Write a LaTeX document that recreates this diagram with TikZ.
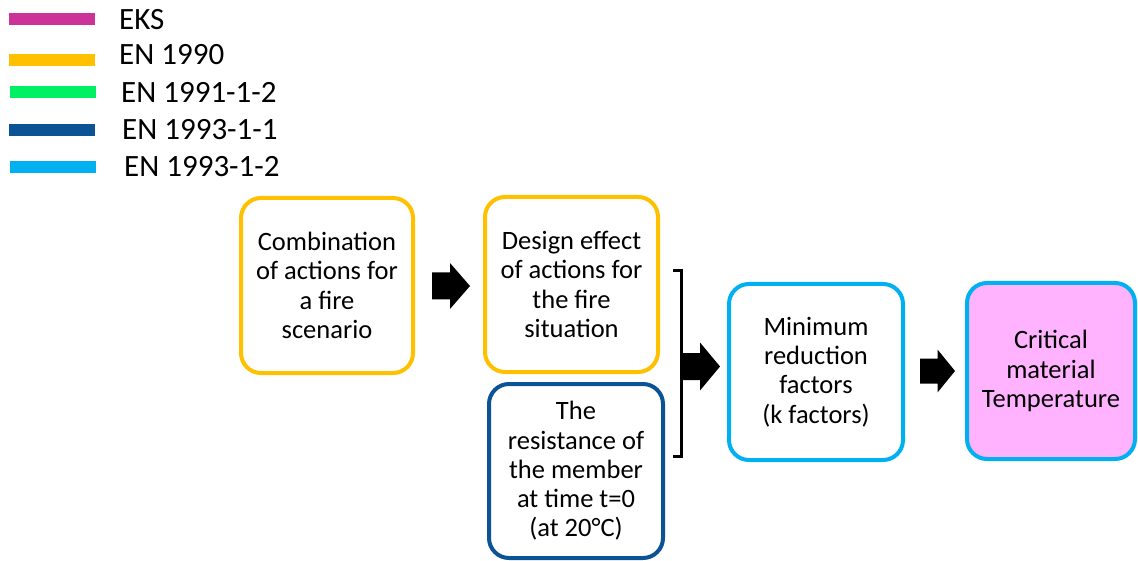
\documentclass[tikz,border=0pt]{standalone}
\usepackage{fontspec}
\setmainfont{Carlito}

\definecolor{eks}{HTML}{CC3399}
\definecolor{enorange}{HTML}{FFC000}
\definecolor{engreen}{HTML}{00F064}
\definecolor{endark}{HTML}{0B5394}
\definecolor{enlight}{HTML}{00B0F0}
\definecolor{critfill}{HTML}{FFB3FF}

\tikzset{
  legline/.style={line width=12pt},
  legtext/.style={anchor=west, inner sep=0pt, font=\fontsize{31}{36}\selectfont},
  stepbox/.style={draw, line width=4pt, rounded corners=20pt, align=center,
    inner sep=0pt, font=\fontsize{26.5}{29.3}\selectfont},
  bracketline/.style={line width=3pt, line join=miter},
  % block arrow drawn from the tail centre: length / half shaft / half head / head length
  pics/blockarrow/.style args={#1/#2/#3/#4}{code={
    \fill[black] (0,-#2) -- ({#1-#4},-#2) -- ({#1-#4},-#3) -- (#1,0)
      -- ({#1-#4},#3) -- ({#1-#4},#2) -- (0,#2) -- cycle;
  }}
}

\begin{document}
\begin{tikzpicture}[x=1pt, y=-1pt]
\useasboundingbox (0,0) rectangle (1138,561);

% legend
\draw[legline, eks]      (9,19)   -- (95,19);
\draw[legline, enorange] (9,60)   -- (95,60);
\draw[legline, engreen]  (10,92)  -- (96,92);
\draw[legline, endark]   (9,130)  -- (95,130);
\draw[legline, enlight]  (10,167) -- (96,167);
\node[legtext] (lg1) at (119,19.5) {EKS};
\node[legtext] (lg2) at (119,55)   {EN 1990};
\node[legtext] (lg3) at (121,92.5) {EN 1991-1-2};
\node[legtext] (lg4) at (122,130)  {EN 1993-1-1};
\node[legtext] (lg5) at (124,167)  {EN 1993-1-2};

% process boxes
\node[stepbox, draw=enorange, minimum width=172pt, minimum height=175pt]
  (comb) at (327,285.5) {Combination\\of actions for\\a fire\\scenario};
\node[stepbox, draw=enorange, minimum width=173pt, minimum height=175pt]
  (effect) at (571.5,284.5) {Design effect\\of actions for\\the fire\\situation};
\node[stepbox, draw=endark, minimum width=174pt, minimum height=174pt]
  (resist) at (576,471) {The\\resistance of\\the member\\at time t=0\\(at 20\textdegree C)};
\node[stepbox, draw=enlight, minimum width=174pt, minimum height=176pt]
  (kfac) at (816,372) {Minimum\\reduction\\factors\\(k factors)};
\node[stepbox, draw=enlight, fill=critfill, minimum width=168pt, minimum height=176pt]
  (crit) at (1051,371) {Critical\\material\\Temperature};

% bracket joining the two inputs
\coordinate (brtop) at (673,271);
\coordinate (brbot) at (673,456);
\draw[bracketline] (brtop) -- ++(8,0) |- (brbot);

% block arrows between the steps
\pic (a1) at (432,286)   {blockarrow={38/13.5/23/20}};
\pic (a2) at (680,366.5) {blockarrow={40/13.5/24/20}};
\pic (a3) at (920,371)   {blockarrow={35/12.5/21.5/17.5}};
\end{tikzpicture}
\end{document}
